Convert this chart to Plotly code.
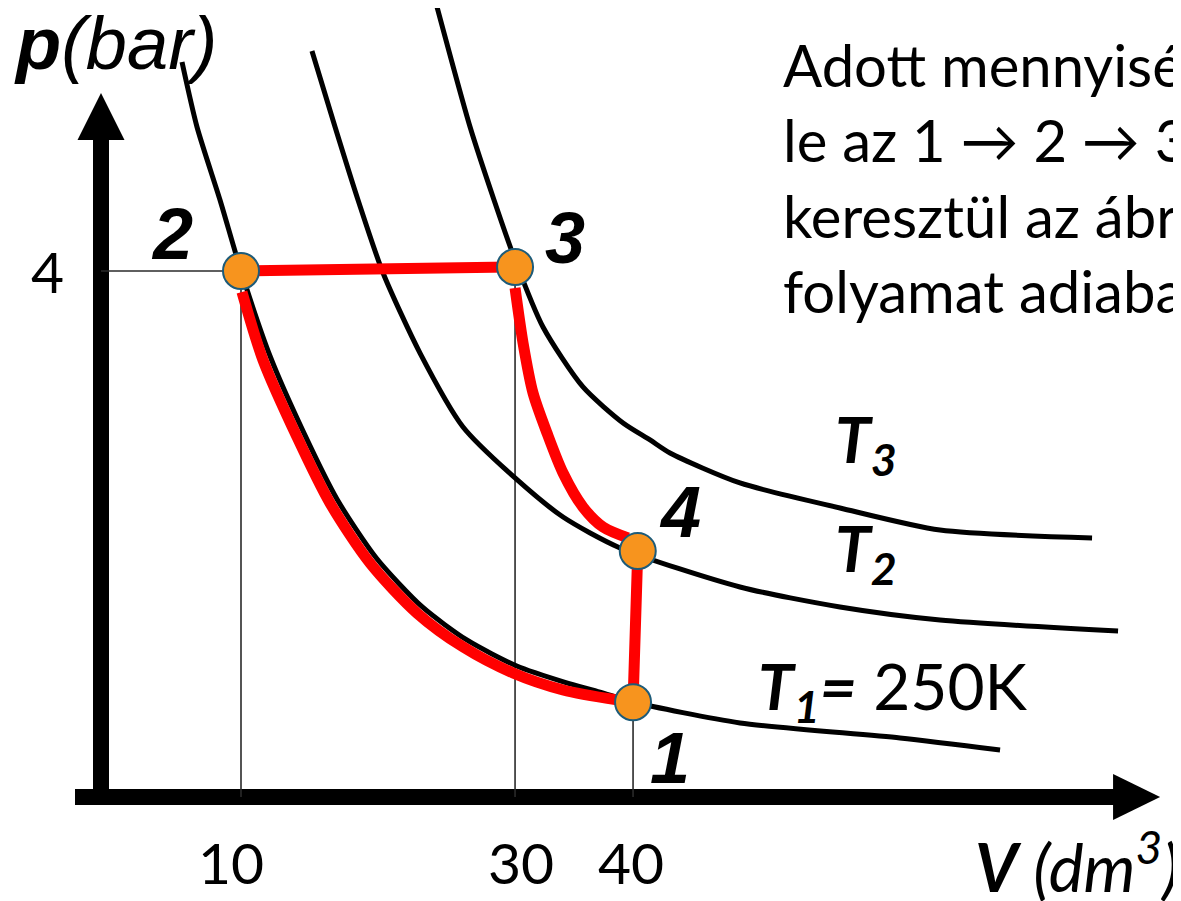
import plotly.graph_objects as go

# page has an 8px body margin: the figure is drawn 8px in from the top-left
OFF = 8
W, H = 1181 - OFF, 901 - OFF
X_RANGE = [-6.723, 78.07]   # V (dm3), schematic axis
Y_RANGE = [-0.791, 6.000]   # p (bar)

# ---- state points 1..4 ----
point_labels = ["1", "2", "3", "4"]
V_pts = [38.46, 10.12, 29.93, 38.80]
p_pts = [0.72, 4.00, 4.03, 1.87]

# ---- tick labels ----
x_tick_vals = [10.12, 29.93, 38.46]
x_tick_text = ["10", "30", "40"]
y_tick_vals = [4.0]
y_tick_text = ["4"]

# ---- isotherms ----
T1_V = [5.856, 6.940, 8.603, 10.121, 12.253, 14.690, 17.053, 19.902, 23.227, 26.473, 30.015, 33.543, 36.073, 38.459, 46.194, 57.760, 64.990]
T1_p = [5.589, 5.095, 4.540, 4.000, 3.344, 2.763, 2.266, 1.817, 1.445, 1.192, 0.998, 0.872, 0.798, 0.722, 0.563, 0.449, 0.357]

T2_V = [15.25, 16.92, 18.58, 20.39, 23.06, 26.17, 29.93, 33.40, 37.52, 46.19, 53.42, 60.65, 73.52]
T2_p = [5.673, 5.095, 4.540, 3.985, 3.376, 2.814, 2.426, 2.129, 1.894, 1.597, 1.445, 1.346, 1.262]

T3_V = [24.29, 26.68, 28.41, 29.93, 31.95, 34.84, 37.74, 39.69, 41.13, 46.19, 53.42, 60.65, 71.64]
T3_p = [6.008, 5.095, 4.540, 4.084, 3.574, 3.118, 2.844, 2.715, 2.616, 2.388, 2.198, 2.030, 1.970]

# ---- cycle branches (red) ----
adia34_V = [29.93, 30.51, 31.23, 32.24, 33.40, 34.84, 36.29, 38.10]
adia34_p = [3.871, 3.452, 3.072, 2.768, 2.464, 2.205, 2.053, 1.970]

iso12_V = [37.30, 33.40, 29.78, 26.17, 22.84, 19.45, 16.55, 14.17, 11.71, 10.19]
iso12_p = [0.738, 0.814, 0.943, 1.141, 1.399, 1.779, 2.236, 2.738, 3.323, 3.840]

RED = "#FF0000"
ORANGE = "#F7941E"
EDGE = "#1D5B79"
GUIDE = "#2a2a2a"
CAL = "Lato, 'Open Sans', sans-serif"
ARIAL = "'Liberation Sans', Arial, sans-serif"

fig = go.Figure()

# thin guide lines
i1, i2, i3, i4 = 0, 1, 2, 3
fig.add_trace(go.Scatter(x=[0, V_pts[i2]], y=[p_pts[i2], p_pts[i2]], mode="lines",
                         line=dict(color=GUIDE, width=1.6), hoverinfo="skip"))
for i in (i2, i3, i1):
    fig.add_trace(go.Scatter(x=[V_pts[i], V_pts[i]], y=[p_pts[i], 0], mode="lines",
                             line=dict(color=GUIDE, width=1.6), hoverinfo="skip"))

# isotherms
for Vs, ps in ((T1_V, T1_p), (T2_V, T2_p), (T3_V, T3_p)):
    fig.add_trace(go.Scatter(x=Vs, y=ps, mode="lines",
                             line=dict(color="black", width=5, shape="spline", smoothing=0.7),
                             hoverinfo="skip"))

# red cycle
fig.add_trace(go.Scatter(x=[V_pts[i2], V_pts[i3]], y=[p_pts[i2], p_pts[i3]], mode="lines",
                         line=dict(color=RED, width=11)))
fig.add_trace(go.Scatter(x=adia34_V, y=adia34_p, mode="lines",
                         line=dict(color=RED, width=11, shape="spline", smoothing=0.8)))
fig.add_trace(go.Scatter(x=[V_pts[i4], V_pts[i1]], y=[p_pts[i4], p_pts[i1]], mode="lines",
                         line=dict(color=RED, width=11)))
fig.add_trace(go.Scatter(x=iso12_V, y=iso12_p, mode="lines",
                         line=dict(color=RED, width=11, shape="spline", smoothing=0.8)))

# state points
fig.add_trace(go.Scatter(x=V_pts, y=p_pts, mode="markers",
                         marker=dict(size=36, color=ORANGE, line=dict(color=EDGE, width=2)),
                         hoverinfo="skip"))

# ---- axes (thick arrows) ----
px_x = (X_RANGE[1] - X_RANGE[0]) / W   # data units per pixel (x)
px_y = (Y_RANGE[1] - Y_RANGE[0]) / H   # data units per pixel (y)
shapes = []
shapes.append(dict(type="line", xref="x", yref="y", x0=0, x1=0, y0=-8 * px_y, y1=4.996,
                   line=dict(color="black", width=16), layer="below"))
shapes.append(dict(type="path", xref="x", yref="y",
                   path=f"M {-23.5*px_x} 4.996 L {23.5*px_x} 4.996 L 0 5.354 Z",
                   fillcolor="black", line=dict(width=0)))
shapes.append(dict(type="line", xref="x", yref="y", x0=-1.88, x1=73.30, y0=0, y1=0,
                   line=dict(color="black", width=16), layer="below"))
shapes.append(dict(type="path", xref="x", yref="y",
                   path=f"M 73.16 {-23*px_y} L 73.16 {23*px_y} L 76.56 0 Z",
                   fillcolor="black", line=dict(width=0)))

def P(px, py):
    return (px - OFF) / W, 1 - (py - OFF) / H

ann = []
def add(text, px, py, size, family, xanchor="center", yanchor="middle", color="black"):
    x, y = P(px, py)
    ann.append(dict(text=text, x=x, y=y, xref="paper", yref="paper", showarrow=False,
                    xanchor=xanchor, yanchor=yanchor, align="left",
                    font=dict(size=size, family=family, color=color)))

# axis titles
add("<b><i>p</i></b><i>(bar)</i>", 12, 43, 74, ARIAL, xanchor="left")
add("<b><i>V</i></b><i> (dm<sup>3</sup>)</i>", 1181, 862, 66, CAL, xanchor="right")

# tick labels
tick_shift = [-10, 6, -2]
for v, t, s in zip(x_tick_vals, x_tick_text, tick_shift):
    ann.append(dict(text=t, x=v, y=1 - (862 - OFF) / H, xref="x", yref="paper", showarrow=False,
                    xanchor="center", yanchor="middle", xshift=s,
                    font=dict(size=57, family=CAL, color="black")))
for v, t in zip(y_tick_vals, y_tick_text):
    ann.append(dict(text=t, x=(47 - OFF) / W, y=v, xref="paper", yref="y", showarrow=False,
                    xanchor="center", yanchor="middle",
                    font=dict(size=57, family=CAL, color="black")))

# point numbers
label_pos = {"1": (670, 758), "2": (172, 234), "3": (565, 238), "4": (680, 512)}
for lab in point_labels:
    add(f"<b><i>{lab}</i></b>", *label_pos[lab], 72, ARIAL)

# isotherm labels
add("<b><i>T<sub>3</sub></i></b>", 833, 443, 64, CAL, xanchor="left")
add("<b><i>T<sub>2</sub></i></b>", 833, 552, 64, CAL, xanchor="left")
add("<b><i>T<sub>1</sub>=</i></b> 250K", 756, 690, 64, CAL, xanchor="left")

# description text (as much as the picture shows; it is cut by the right edge)
lines = ["Adott mennyisé",
         "le az 1 \u2192 2 \u2192 3",
         "keresztül az ábr",
         "folyamat adiaba"]
for k, line in enumerate(lines):
    add(line, 781, 65 + 75 * k, 58, CAL, xanchor="left")

fig.update_layout(
    width=W, height=H,
    margin=dict(l=0, r=0, t=0, b=0),
    paper_bgcolor="white", plot_bgcolor="white",
    showlegend=False,
    xaxis=dict(range=X_RANGE, visible=False, fixedrange=True),
    yaxis=dict(range=Y_RANGE, visible=False, fixedrange=True),
    shapes=shapes,
    annotations=ann,
)

fig.write_html("out.html")
